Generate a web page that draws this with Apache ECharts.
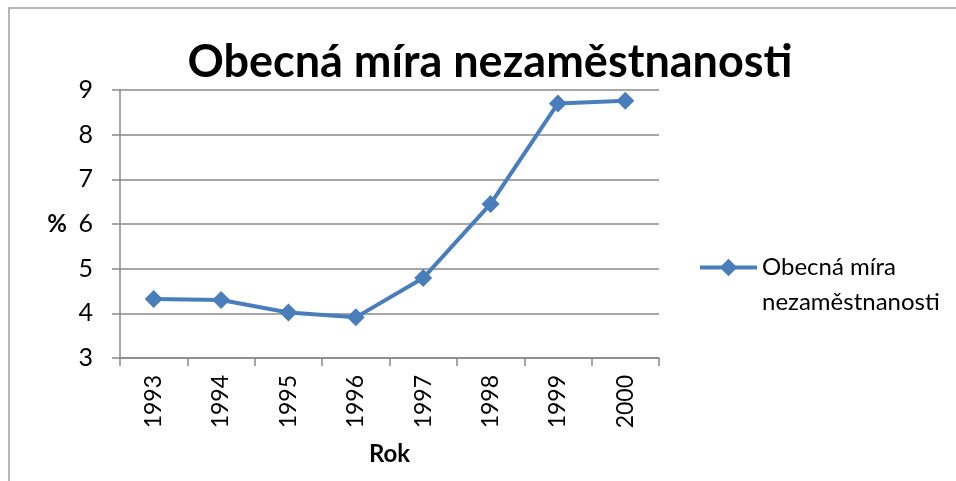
<!DOCTYPE html>
<html>
<head>
<meta charset="utf-8">
<title>Obecná míra nezaměstnanosti</title>
<script src="https://cdn.jsdelivr.net/npm/echarts@6/dist/echarts.min.js"></script>
<style>
  body { margin: 0; background: #fff; }
  #main { width: 956px; height: 481px; }
</style>
</head>
<body>
<div id="main"></div>
<script>
// data
var roky = ['1993', '1994', '1995', '1996', '1997', '1998', '1999', '2000'];
var mira = [4.32, 4.30, 4.02, 3.91, 4.79, 6.45, 8.70, 8.76];
var nazevRady = 'Obecná míra nezaměstnanosti';

var font = 'Lato, "Open Sans", sans-serif';
var modra = '#4A7EBB';
var seda = '#898989';

var chart = echarts.init(document.getElementById('main'));
chart.setOption({
  animation: false,
  textStyle: { fontFamily: font },
  title: {
    text: 'Obecná míra nezaměstnanosti',
    left: 485, top: 35,
    textAlign: 'center',
    textStyle: { fontSize: 45, fontWeight: 'bold', color: '#000', fontFamily: font }
  },
  graphic: [{
    type: 'rect', silent: true,
    shape: { x: 9, y: 8, width: 1200, height: 1200 },
    style: { fill: 'none', stroke: '#a0a0a0', lineWidth: 1.5 }
  }],
  legend: {
    orient: 'vertical', left: 698, top: 215,
    padding: 0,
    itemWidth: 57, itemHeight: 22,
    lineStyle: { width: 4 },
    textStyle: { fontSize: 24, color: '#000', lineHeight: 35 },
    // prázdný řádek nahoře, aby ikona seděla u prvního řádku
    formatter: function () { return ' \nObecná míra\nnezaměstnanosti'; },
    data: [nazevRady]
  },
  grid: { left: 120, right: 297, top: 90, bottom: 123 },
  xAxis: {
    type: 'category',
    data: roky,
    boundaryGap: true,
    name: 'Rok',
    nameLocation: 'middle',
    nameGap: 84,
    nameTextStyle: { fontSize: 24, fontWeight: 'bold', color: '#000' },
    axisLine: { lineStyle: { color: seda, width: 1.5 } },
    axisTick: { show: true, length: 8, lineStyle: { color: seda, width: 1.5 } },
    axisLabel: { rotate: 90, fontSize: 23, color: '#000', margin: 17 }
  },
  yAxis: {
    type: 'value',
    min: 3, max: 9, interval: 1,
    name: '%',
    nameLocation: 'middle',
    nameRotate: 0,
    nameGap: 53,
    nameTextStyle: { fontSize: 24, fontWeight: 'bold', color: '#000' },
    axisLine: { show: true, lineStyle: { color: seda, width: 1.5 } },
    axisTick: { show: true, length: 8, lineStyle: { color: seda, width: 1.5 } },
    axisLabel: { fontSize: 25, color: '#000', margin: 27 },
    splitLine: { lineStyle: { color: seda, width: 1.5 } }
  },
  series: [{
    name: nazevRady,
    type: 'line',
    data: mira,
    symbol: 'diamond',
    symbolSize: 18,
    itemStyle: { color: modra },
    lineStyle: { color: modra, width: 4 }
  }]
});
</script>
</body>
</html>
